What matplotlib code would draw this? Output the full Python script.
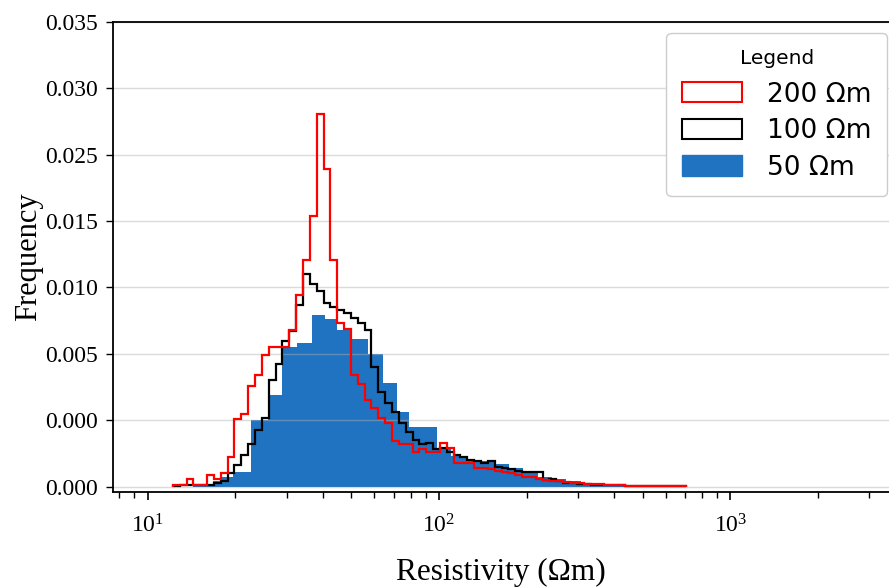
import numpy as np
import matplotlib.pyplot as plt
from matplotlib.patches import Patch

plt.rcParams['font.family'] = 'Liberation Serif'
plt.rcParams['mathtext.fontset'] = 'stix'

# fine log bins used for the 200 and 100 ohm-m runs (log10 of resistivity)
fine_edges = 10 ** (1.0865 + 0.0235 * np.arange(76))

freq_200 = [0.0001, 0.00015, 0.0006, 0.0001, 0.0001, 0.0009, 0.0006, 0.001, 0.0022, 0.0051,
            0.0055, 0.0076, 0.0084, 0.0099, 0.0105, 0.0105, 0.0105, 0.0118, 0.0144, 0.0171,
            0.0204, 0.0281, 0.0239, 0.0171, 0.0123, 0.0119, 0.0084, 0.0077, 0.0065, 0.0059,
            0.0052, 0.0048, 0.0034, 0.0032, 0.0032, 0.0026, 0.0028, 0.0026, 0.0026, 0.0033,
            0.0029, 0.0018, 0.0018, 0.0018, 0.0014, 0.0014, 0.0013, 0.0012, 0.0011, 0.001,
            0.0009, 0.00075, 0.0007, 0.0006, 0.00053, 0.00045, 0.0004, 0.00034, 0.0003, 0.00026,
            0.00023, 0.0002, 0.00016, 0.00012, 0.0001, 0.0001, 0.00008, 0.00008, 0.00006, 0.00005,
            0.00005, 0.00004, 0.00003, 0.00003, 0.00002]

freq_100 = [0.00005, 0.0001, 0.0001, 0.0001, 0.0001, 0.0001, 0.0003, 0.00045, 0.001, 0.0016,
            0.0024, 0.0032, 0.0043, 0.0052, 0.008, 0.0092, 0.011, 0.0117, 0.0137, 0.016,
            0.0153, 0.0147, 0.0138, 0.0135, 0.0133, 0.0131, 0.0127, 0.0123, 0.0118, 0.009,
            0.0071, 0.0063, 0.0056, 0.0048, 0.0041, 0.0035, 0.0032, 0.0033, 0.0028, 0.0029,
            0.0026, 0.0024, 0.0022, 0.002, 0.0019, 0.0018, 0.0019, 0.0015, 0.0014, 0.0013,
            0.0012, 0.0011, 0.0011, 0.0011, 0.0005, 0.0006, 0.00045, 0.0003, 0.0003, 0.00022,
            0.00022, 0.00015, 0.00015, 0.00011, 0.0001, 0.0001, 0.00008, 0.00004, 0.00004, 0.00004,
            0.00003, 0.00003, 0.00003, 0.00002, 0.00002]

# coarser bins for the 50 ohm-m run
edges_50 = [14.28, 15.29, 16.73, 17.92, 19.60, 22.72, 25.91, 28.81, 32.44, 36.52,
            40.58, 44.52, 50.12, 57.15, 64.37, 71.55, 78.57, 98.42, 110.3, 123.5,
            138.4, 155.0, 173.6, 194.5, 217.9, 244.1, 273.4, 306.3, 343.1, 384.3,
            430.5, 482.3, 540.2, 605.2, 678.0]
freq_50 = [0.0001, 0.0002, 0.0004, 0.0007, 0.0011, 0.005, 0.0069, 0.0105, 0.0108, 0.0129,
           0.0126, 0.0118, 0.0111, 0.01, 0.0078, 0.0056, 0.0045, 0.0028, 0.0023, 0.002,
           0.0019, 0.0017, 0.0014, 0.0011, 0.00075, 0.0006, 0.00045, 0.0003, 0.00022, 0.00015,
           0.0001, 0.00005, 0.00003, 0.00002]

ytick_vals = [0, 0.005, 0.01, 0.015, 0.02, 0.025, 0.03, 0.035]
ytick_labels = ['0.000', '0.000', '0.005', '0.010', '0.015', '0.025', '0.030', '0.035']

fig = plt.figure(figsize=(8.89, 5.87), dpi=100)
ax = fig.add_axes([0.127, 0.162, 0.873, 0.8005])

blue = '#1f73c0'
ax.stairs(freq_50, edges_50, fill=True, color=blue, zorder=1)
ax.stairs(freq_100, fine_edges, color='black', lw=1.6, zorder=3)
ax.stairs(freq_200, fine_edges, color='red', lw=1.6, zorder=4)

ax.set_xscale('log')
ax.set_xlim(7.6, 3500)
ax.set_ylim(-0.0004, 0.035)
ax.set_yticks(ytick_vals)
ax.set_yticklabels(ytick_labels)
ax.yaxis.grid(True, color='#b0b0b0', alpha=0.45, lw=1.0, zorder=2)
ax.tick_params(axis='both', labelsize=17, direction='out')
ax.tick_params(axis='x', which='major', length=6, width=1.2, pad=10)
ax.tick_params(axis='x', which='minor', length=4, width=1.0)
ax.tick_params(axis='y', length=5, width=1.0, pad=6)
ax.spines['right'].set_visible(False)
for s in ['top', 'left', 'bottom']:
    ax.spines[s].set_linewidth(1.3)

ax.set_ylabel('Frequency', fontsize=22, labelpad=1)
ax.set_xlabel('Resistivity (Ωm)', fontsize=22.5)
ax.xaxis.set_label_coords(0.5, -0.14)

handles = [Patch(facecolor='none', edgecolor='red', lw=1.5),
           Patch(facecolor='none', edgecolor='black', lw=1.5),
           Patch(facecolor=blue, edgecolor=blue)]
leg = ax.legend(handles, ['200 Ωm', '100 Ωm', '50 Ωm'], title='Legend',
                loc='upper right', bbox_to_anchor=(0.9975, 0.977), borderaxespad=0,
                prop={'family': 'DejaVu Sans', 'size': 19},
                title_fontproperties={'family': 'DejaVu Sans', 'size': 14.5},
                handlelength=2.25, handleheight=0.8, handletextpad=0.95,
                labelspacing=0.4, borderpad=0.6, fancybox=True, framealpha=1,
                edgecolor='#cccccc')
leg._legend_box.sep = 10  # a bit more room under the title

fig.savefig('out.png', dpi=100)
